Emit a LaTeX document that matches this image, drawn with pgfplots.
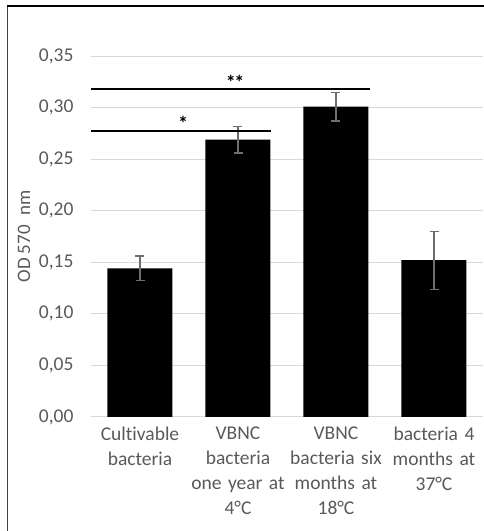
\documentclass[border=0pt]{standalone}
\usepackage{fontspec}
\setmainfont{Carlito}[Ligatures=NoCommon]
\usepackage{pgfplots}
\pgfplotsset{compat=1.18}
\definecolor{tickgray}{HTML}{595959}
\definecolor{gridgray}{HTML}{D9D9D9}
\definecolor{errgray}{HTML}{6E6E6E}
\begin{document}
\begin{tikzpicture}
\useasboundingbox (0pt,0pt) rectangle (483pt,531pt);
\draw[line width=1.4pt, black!75] (7.5pt,-10pt) -- (7.5pt,525pt);
\draw[line width=2pt, black] (6.8pt,525pt) -- (500pt,525pt);
\begin{axis}[
  at={(91pt,114pt)}, anchor=south west,
  scale only axis, width=392pt, height=361pt,
  xmin=-0.5, xmax=3.5, ymin=0, ymax=0.35,
  axis line style={draw=none},
  ymajorgrids, grid style={gridgray, line width=1pt},
  ytick={0,0.05,...,0.35},
  xtick={0,1,2,3},
  xticklabels={{Cultivable\\bacteria},{VBNC\\bacteria\\one year at\\4°C},{VBNC\\bacteria six\\months at\\18°C},{bacteria 4\\months at\\37°C}},
  major tick length=0pt,
  /pgf/number format/assume math mode=true,
  /pgf/number format/fixed, /pgf/number format/fixed zerofill,
  /pgf/number format/precision=2, /pgf/number format/use comma,
  yticklabel style={font=\fontsize{19.5pt}{23pt}\selectfont, text=tickgray, xshift=-14pt},
  xticklabel style={font=\fontsize{19.5pt}{25pt}\selectfont, text=tickgray, text width=110pt, align=center, yshift=-6pt},
  ylabel={OD 570\hspace{0.5em}nm},
  ylabel style={at={(axis description cs:-0.171,0.5)}, anchor=center, rotate=0, font=\fontsize{19pt}{23pt}\selectfont, text=tickgray},
  clip=false,
]
\addplot[draw=none] coordinates {(-0.5,0) (3.5,0)};
\draw[gridgray, line width=1pt] (axis cs:-0.5,0) -- (axis cs:3.5,0);
\addplot[ybar, bar width=65pt, fill=black, draw=none,
  error bars/.cd, y dir=both, y explicit,
  error bar style={errgray, line width=1.2pt},
  error mark options={rotate=90, mark size=4.5pt, errgray, line width=1.2pt}]
  coordinates {
  (0,0.144) +- (0,0.012)
  (1,0.269) +- (0,0.013)
  (2,0.301) +- (0,0.014)
  (3,0.152) +- (0,0.028)
  };
\draw[black, line width=2pt] (axis cs:-0.5,0.318) -- (axis cs:2.347,0.318);
\draw[black, line width=2pt] (axis cs:-0.5,0.277) -- (axis cs:1.337,0.277);
\node[font=\fontsize{20pt}{22pt}\selectfont\bfseries] at (axis cs:0.97,0.3245) {*\kern-1.5pt*};
\node[font=\fontsize{20pt}{22pt}\selectfont\bfseries] at (axis cs:0.439,0.285) {*};
\end{axis}
\end{tikzpicture}
\end{document}
